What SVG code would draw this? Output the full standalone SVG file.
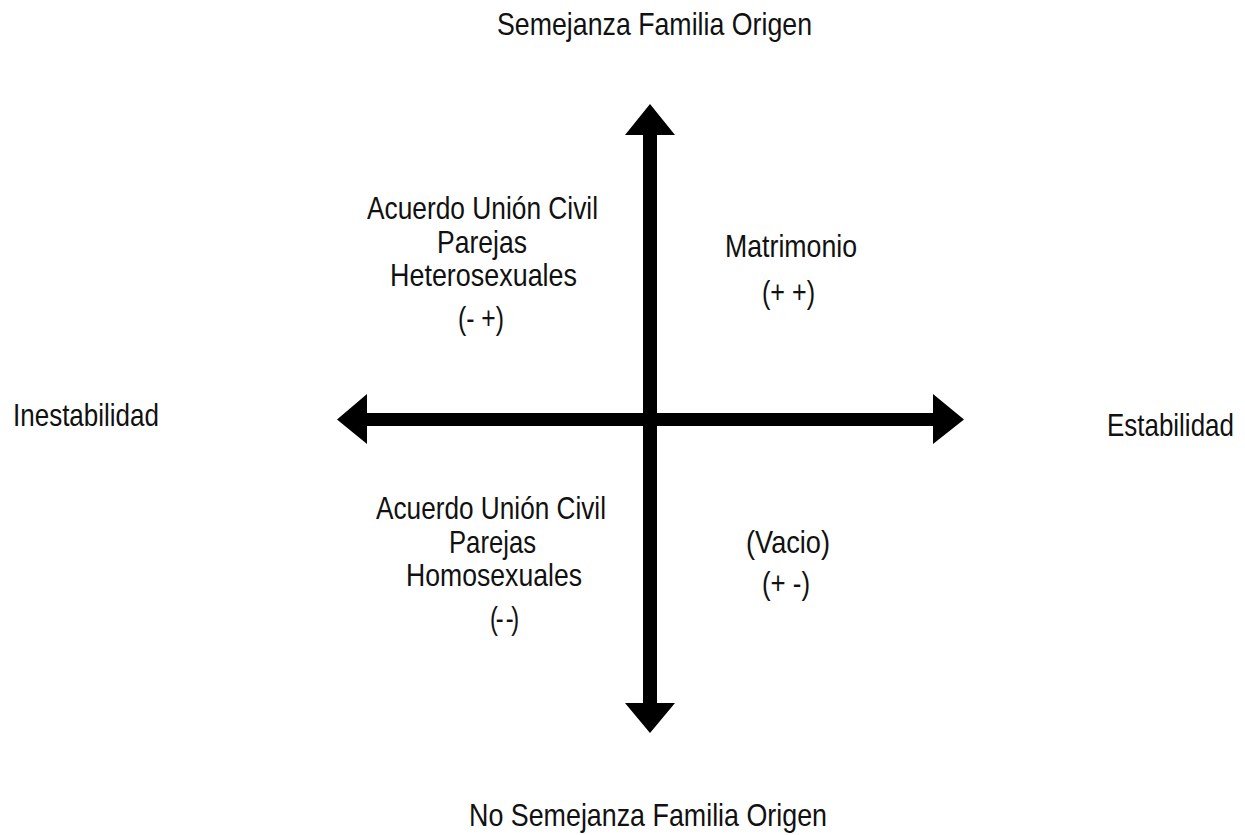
<svg xmlns="http://www.w3.org/2000/svg" width="1245" height="835" viewBox="0 0 1245 835">
<style>
.t{font-family:"Liberation Sans Narrow","Liberation Sans",Arial,sans-serif;font-size:32px;fill:#111}
.ax{fill:#000}
</style>
<rect width="1245" height="835" fill="#fff"/>
<g id="connectors">
<polygon class="ax" points="650,104 675,135 657,135 657,703 675,703 650,733 625,703 643,703 643,135 625,135"/>
<polygon class="ax" points="337,419.5 367,394 367,413 933,413 933,394 964,419.5 933,444 933,426 367,426 367,444"/>
</g>
<g id="top-label"><text class="t" x="497" y="35" textLength="315" lengthAdjust="spacingAndGlyphs">Semejanza Familia Origen</text></g>
<g id="bottom-label"><text class="t" x="469" y="826" textLength="358" lengthAdjust="spacingAndGlyphs">No Semejanza Familia Origen</text></g>
<g id="left-label"><text class="t" x="13" y="426" textLength="146" lengthAdjust="spacingAndGlyphs">Inestabilidad</text></g>
<g id="right-label"><text class="t" transform="translate(1107,436) scale(0.811,1)" x="0" y="0">Estabilidad</text></g>
<g id="q-top-left">
<text class="t" x="367" y="219" textLength="231" lengthAdjust="spacingAndGlyphs">Acuerdo Unión Civil</text>
<text class="t" x="437" y="253" textLength="90" lengthAdjust="spacingAndGlyphs">Parejas</text>
<text class="t" x="390" y="286" textLength="187" lengthAdjust="spacingAndGlyphs">Heterosexuales</text>
<text class="t" x="458" y="329" textLength="46" lengthAdjust="spacingAndGlyphs">(- +)</text>
</g>
<g id="q-top-right">
<text class="t" x="725" y="257" textLength="132" lengthAdjust="spacingAndGlyphs">Matrimonio</text>
<text class="t" x="762" y="303" textLength="53" lengthAdjust="spacingAndGlyphs">(+ +)</text>
</g>
<g id="q-bottom-left">
<text class="t" x="376" y="519" textLength="230" lengthAdjust="spacingAndGlyphs">Acuerdo Unión Civil</text>
<text class="t" x="449" y="553" textLength="87" lengthAdjust="spacingAndGlyphs">Parejas</text>
<text class="t" x="406" y="586" textLength="176" lengthAdjust="spacingAndGlyphs">Homosexuales</text>
<text class="t" x="490" y="629" textLength="27" lengthAdjust="spacingAndGlyphs" letter-spacing="-3">(- -)</text>
</g>
<g id="q-bottom-right">
<text class="t" x="746" y="553" textLength="84" lengthAdjust="spacingAndGlyphs">(Vacio)</text>
<text class="t" x="762" y="594" textLength="48" lengthAdjust="spacingAndGlyphs">(+ -)</text>
</g>
</svg>
